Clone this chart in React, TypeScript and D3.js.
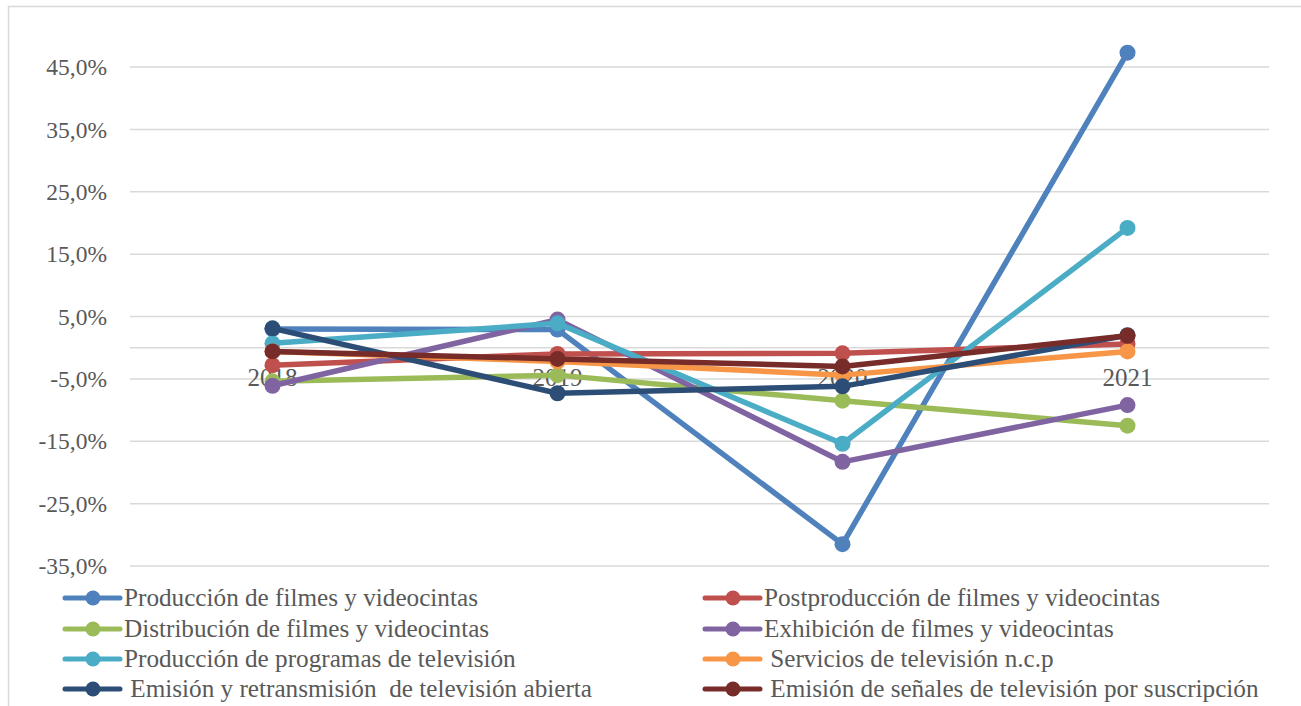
import React from "react";
import * as d3 from "d3";

const years = ["2018", "2019", "2020", "2021"];
const yTicks = [-35, -25, -15, -5, 5, 15, 25, 35, 45];
const yTickLabels = ["-35,0%", "-25,0%", "-15,0%", "-5,0%", "5,0%", "15,0%", "25,0%", "35,0%", "45,0%"];

const seriesNames = [
  "Producción de filmes y videocintas",
  "Postproducción de filmes y videocintas",
  "Distribución de filmes y videocintas",
  "Exhibición de filmes y videocintas",
  "Producción de programas de televisión",
  " Servicios de televisión n.c.p",
  " Emisión y retransmisión  de televisión abierta",
  " Emisión de señales de televisión por suscripción",
];
const seriesColors = ["#4F81BD", "#C0504D", "#9BBB59", "#8064A2", "#4BACC6", "#F79646", "#2C4D75", "#772C2A"];

const produccionFilmes = [3.0, 2.9, -31.5, 47.3];
const postproduccion = [-2.8, -1.0, -0.9, 0.6];
const distribucion = [-5.4, -4.4, -8.5, -12.5];
const exhibicion = [-6.1, 4.5, -18.3, -9.2];
const produccionProgramas = [0.7, 3.9, -15.4, 19.2];
const serviciosTv = [-0.6, -2.2, -4.4, -0.6];
const emisionAbierta = [3.1, -7.3, -6.2, 2.0];
const emisionSuscripcion = [-0.6, -1.8, -3.0, 1.9];

const seriesValues = [
  produccionFilmes,
  postproduccion,
  distribucion,
  exhibicion,
  produccionProgramas,
  serviciosTv,
  emisionAbierta,
  emisionSuscripcion,
];

const W = 1301;
const H = 706;
const textColor = "#595959";
const gridColor = "#D9D9D9";
const font = "'Liberation Serif', 'Times New Roman', serif";

export default function App() {
  const x = d3.scalePoint<string>().domain(years).range([130, 1270]).padding(0.5);
  const y = d3.scaleLinear().domain([-35, 45]).range([566, 67]);
  const line = d3
    .line<number>()
    .x((_, i) => x(years[i]) as number)
    .y((d) => y(d));

  // legend layout: two columns, four rows
  const legendRows = [598, 629, 659, 689];
  const legendCols = [65, 705];

  return (
    <svg
      width={W}
      height={H}
      style={{ position: "absolute", left: 0, top: 0, background: "#fff" }}
      fontFamily={font}
    >
      <rect x={8.5} y={6.5} width={1300} height={710} fill="#fff" stroke={gridColor} strokeWidth={1.5} />
      {yTicks.map((t) => (
        <line key={t} x1={130} x2={1269} y1={y(t)} y2={y(t)} stroke={gridColor} strokeWidth={1.5} />
      ))}
      <line x1={130} x2={1269} y1={y(0)} y2={y(0)} stroke={gridColor} strokeWidth={1.5} />
      {yTicks.map((t, i) => (
        <text key={t} x={107} y={y(t)} dy="0.35em" textAnchor="end" fontSize={23.5} fill={textColor}>
          {yTickLabels[i]}
        </text>
      ))}
      {years.map((yr) => (
        <text key={yr} x={x(yr)} y={386} textAnchor="middle" fontSize={25} fill={textColor}>
          {yr}
        </text>
      ))}
      {seriesValues.map((vals, si) => (
        <g key={si}>
          <path d={line(vals) || ""} fill="none" stroke={seriesColors[si]} strokeWidth={5.5} strokeLinejoin="round" />
          {vals.map((v, i) => (
            <circle key={i} cx={x(years[i])} cy={y(v)} r={8} fill={seriesColors[si]} />
          ))}
        </g>
      ))}
      {seriesNames.map((name, si) => {
        const col = si % 2;
        const row = Math.floor(si / 2);
        const lx = legendCols[col];
        const ly = legendRows[row];
        return (
          <g key={name}>
            <line x1={lx} x2={lx + 55} y1={ly} y2={ly} stroke={seriesColors[si]} strokeWidth={5} strokeLinecap="round" />
            <circle cx={lx + 28} cy={ly} r={7.5} fill={seriesColors[si]} />
            <text x={lx + 59} y={ly} dy="0.33em" fontSize={25.2} fill={textColor} style={{ whiteSpace: "pre" }}>
              {name}
            </text>
          </g>
        );
      })}
    </svg>
  );
}
